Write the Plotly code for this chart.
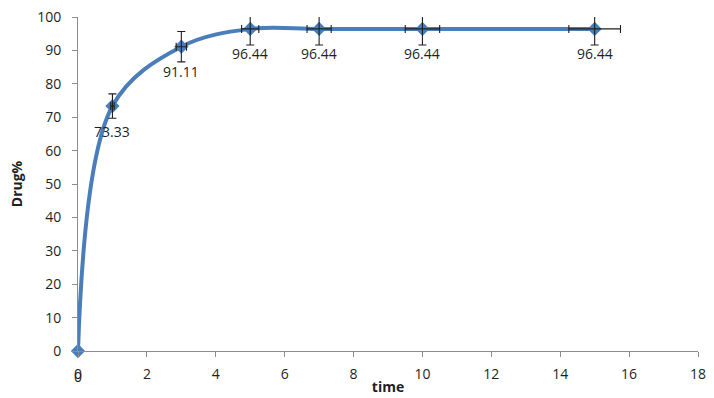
import plotly.graph_objects as go

time = [0, 1, 3, 5, 7, 10, 15]
drug = [0, 73.33, 91.11, 96.44, 96.44, 96.44, 96.44]
labels = ["0", "73.33", "91.11", "96.44", "96.44", "96.44", "96.44"]

blue = "#4A7EBB"
axis_col = "#8C8C8C"
txt = "#1F1F1F"
font = "Open Sans"

fig = go.Figure()
# smoothed line
fig.add_trace(go.Scatter(
    x=time, y=drug, mode="lines",
    line=dict(color=blue, width=4, shape="spline", smoothing=1.0),
    hoverinfo="skip", showlegend=False,
))
# markers
fig.add_trace(go.Scatter(
    x=time, y=drug, mode="markers",
    marker=dict(symbol="diamond", size=11, color=blue, line=dict(width=0)),
    cliponaxis=False, showlegend=False,
))
# error bars (5 %) drawn on top; the origin point has none
fig.add_trace(go.Scatter(
    x=time[1:], y=drug[1:], mode="markers",
    marker=dict(size=0, opacity=0, line=dict(width=0)),
    error_y=dict(type="percent", value=5, color=txt, thickness=1.1, width=4),
    error_x=dict(type="percent", value=5, color=txt, thickness=1.1, width=4),
    hoverinfo="skip", showlegend=False,
))
for xv, yv, lab in zip(time, drug, labels):
    fig.add_annotation(x=xv, y=yv, text=lab, showarrow=False, yshift=-25,
                       font=dict(family=font, size=14, color=txt))

fig.update_layout(
    width=714, height=398,
    margin=dict(l=78, r=16, t=17, b=47),
    paper_bgcolor="white", plot_bgcolor="white",
    font=dict(family=font, size=14, color=txt),
    xaxis=dict(range=[0, 18], tickvals=list(range(0, 19, 2)), showgrid=False,
               zeroline=False, showline=True, linecolor=axis_col, linewidth=1,
               ticks="outside", ticklen=5, tickcolor=axis_col, ticklabelstandoff=5,
               automargin=False,
               title=dict(text="<b>time</b>", standoff=0, font=dict(size=14))),
    yaxis=dict(range=[0, 100], tickvals=list(range(0, 101, 10)), showgrid=False,
               zeroline=False, showline=True, linecolor=axis_col, linewidth=1,
               ticks="outside", ticklen=5, tickcolor=axis_col, ticklabelstandoff=8,
               automargin=False,
               title=dict(text="<b>Drug%</b>", standoff=11, font=dict(size=14))),
)

fig.write_html("out.html")
